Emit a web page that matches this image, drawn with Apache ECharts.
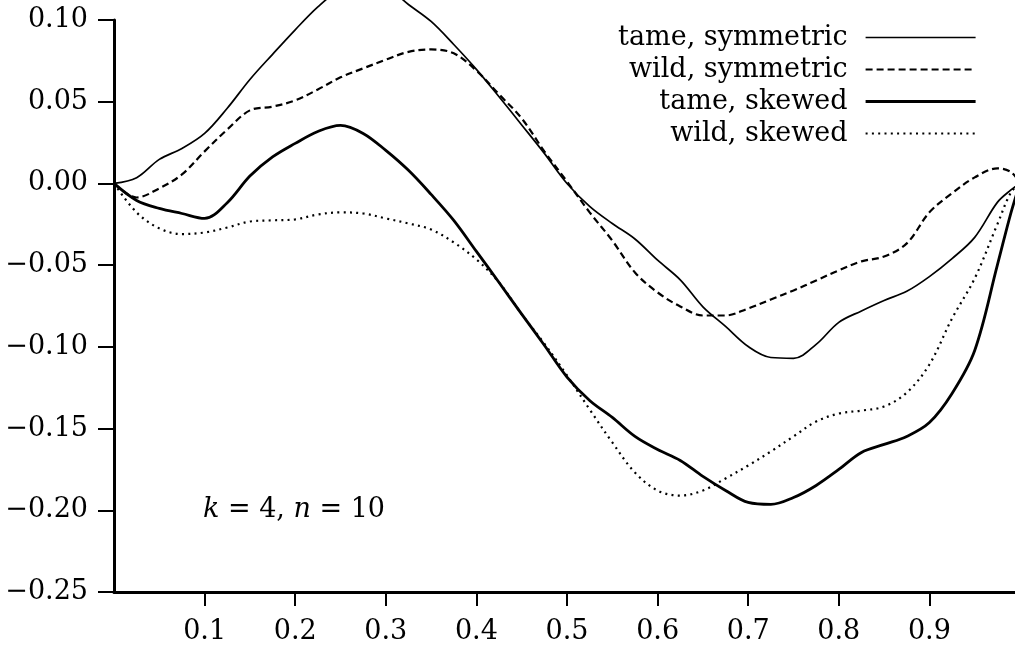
<!DOCTYPE html>
<html><head><meta charset="utf-8">
<script src="https://cdn.jsdelivr.net/npm/echarts@6/dist/echarts.min.js"></script>
<style>html,body{margin:0;padding:0;background:#fff}#c{width:1015px;height:647px}</style>
</head><body><div id="c"></div>
<script>
const xValues = [0, 0.025, 0.05, 0.075, 0.1, 0.125, 0.15, 0.175, 0.2, 0.225, 0.25, 0.275, 0.3, 0.325, 0.35, 0.375, 0.4, 0.425, 0.45, 0.475, 0.5, 0.525, 0.55, 0.575, 0.6, 0.625, 0.65, 0.675, 0.7, 0.725, 0.75, 0.775, 0.8, 0.825, 0.85, 0.875, 0.9, 0.925, 0.95, 0.975, 0.99, 1.0];
const tameSymmetric = [0, 0.0035, 0.0147, 0.0214, 0.0306, 0.046, 0.0636, 0.079, 0.094, 0.108, 0.119, 0.124, 0.1205, 0.1095, 0.0991, 0.085, 0.0698, 0.053, 0.0358, 0.0184, 0, -0.014, -0.0245, -0.034, -0.047, -0.059, -0.0755, -0.0875, -0.0998, -0.1065, -0.107, -0.0985, -0.085, -0.078, -0.0716, -0.066, -0.057, -0.046, -0.033, -0.0116, -0.004, 0];
const wildSymmetric = [0, -0.0086, -0.003, 0.0055, 0.0196, 0.033, 0.0447, 0.047, 0.0508, 0.0575, 0.0649, 0.0704, 0.0757, 0.0805, 0.082, 0.0796, 0.069, 0.0545, 0.0398, 0.0196, 0.0012, -0.0177, -0.035, -0.0545, -0.0667, -0.0753, -0.0808, -0.0808, -0.0765, -0.071, -0.0655, -0.0594, -0.0532, -0.0477, -0.0447, -0.0367, -0.0177, -0.006, 0.0037, 0.0092, 0.007, 0];
const tameSkewed = [0, -0.0104, -0.0153, -0.0184, -0.0214, -0.0118, 0.0045, 0.0162, 0.0245, 0.0318, 0.0355, 0.0306, 0.0202, 0.008, -0.0067, -0.0226, -0.0416, -0.0606, -0.080, -0.099, -0.1185, -0.1328, -0.1432, -0.1548, -0.1628, -0.1695, -0.1793, -0.1879, -0.1952, -0.1964, -0.1922, -0.1848, -0.175, -0.1646, -0.1597, -0.1548, -0.1463, -0.1285, -0.1022, -0.050, -0.018, 0];
const wildSkewed = [0, -0.0178, -0.0275, -0.031, -0.030, -0.027, -0.0233, -0.0226, -0.022, -0.019, -0.0177, -0.0184, -0.0214, -0.0245, -0.0282, -0.0361, -0.0465, -0.0606, -0.080, -0.098, -0.1175, -0.1383, -0.1585, -0.1769, -0.1879, -0.191, -0.1879, -0.1805, -0.1726, -0.164, -0.1548, -0.1457, -0.1408, -0.139, -0.1365, -0.128, -0.1108, -0.0826, -0.0581, -0.025, -0.0055, 0];
const seriesNames = ['tame, symmetric', 'wild, symmetric', 'tame, skewed', 'wild, skewed'];
const seriesValues = [tameSymmetric, wildSymmetric, tameSkewed, wildSkewed];
const xTickValues = [0.1, 0.2, 0.3, 0.4, 0.5, 0.6, 0.7, 0.8, 0.9];
const annotationParts = ['k', ' = 4, ', 'n', ' = 10'];

const FONT = 'DejaVu Serif';
const FS = 27;
const styles = [
  {width: 1.7, type: 'solid'},
  {width: 2.2, type: [7, 4]},
  {width: 2.8, type: 'solid'},
  {width: 2.2, type: [2, 4.3]}
];

const chart = echarts.init(document.getElementById('c'), null, {renderer: 'canvas'});
const series = seriesNames.map((name, i) => ({
  name: name,
  type: 'line',
  data: xValues.map((x, j) => [x, seriesValues[i][j]]),
  smooth: 0.35,
  symbol: 'none',
  clip: false,
  color: '#000',
  lineStyle: {color: '#000', width: styles[i].width, type: styles[i].type},
  emphasis: {disabled: true}
}));

chart.setOption({
  animation: false,
  backgroundColor: '#fff',
  grid: {left: 114, right: -5, top: 20, bottom: 55, outerBoundsMode: 'none', containLabel: false},
  xAxis: {
    type: 'value', min: 0, max: 1, interval: 0.1,
    axisLine: {onZero: false, lineStyle: {color: '#000', width: 3}},
    axisTick: {length: 14, customValues: xTickValues, lineStyle: {color: '#000', width: 2}},
    axisLabel: {margin: 26, customValues: xTickValues, fontFamily: FONT, fontSize: FS, color: '#000',
      formatter: v => (v > 0.001 && v < 0.999) ? v.toFixed(1) : ''},
    splitLine: {show: false}
  },
  yAxis: {
    type: 'value', min: -0.25, max: 0.10, interval: 0.05,
    axisLine: {onZero: false, lineStyle: {color: '#000', width: 3}},
    axisTick: {length: 16, lineStyle: {color: '#000', width: 2}},
    axisLabel: {margin: 26, fontFamily: FONT, fontSize: FS, color: '#000',
      formatter: v => Math.abs(v) < 1e-9 ? '0.00' : (v < 0 ? '\u2212' : '') + Math.abs(v).toFixed(2)},
    splitLine: {show: false}
  },
  legend: {
    orient: 'vertical', align: 'right', right: 38, top: 24, padding: 0,
    itemGap: 5, itemWidth: 110, itemHeight: 28,
    textStyle: {fontFamily: FONT, fontSize: FS, color: '#000', padding: [0, 13, 0, 0]},
    data: seriesNames.map((n, i) => ({
      name: n,
      itemStyle: {opacity: 0, borderWidth: 0},
      lineStyle: {width: styles[i].width, type: styles[i].type, color: '#000'}
    }))
  },
  graphic: [{
    type: 'text', left: 203, top: 496,
    style: {
      text: '{i|' + annotationParts[0] + '}' + annotationParts[1] + '{i|' + annotationParts[2] + '}' + annotationParts[3],
      fontFamily: FONT, fontSize: FS, fill: '#000',
      rich: {i: {fontStyle: 'italic', fontFamily: FONT, fontSize: FS, fill: '#000'}}
    }
  }],
  series: series
});
</script></body></html>
